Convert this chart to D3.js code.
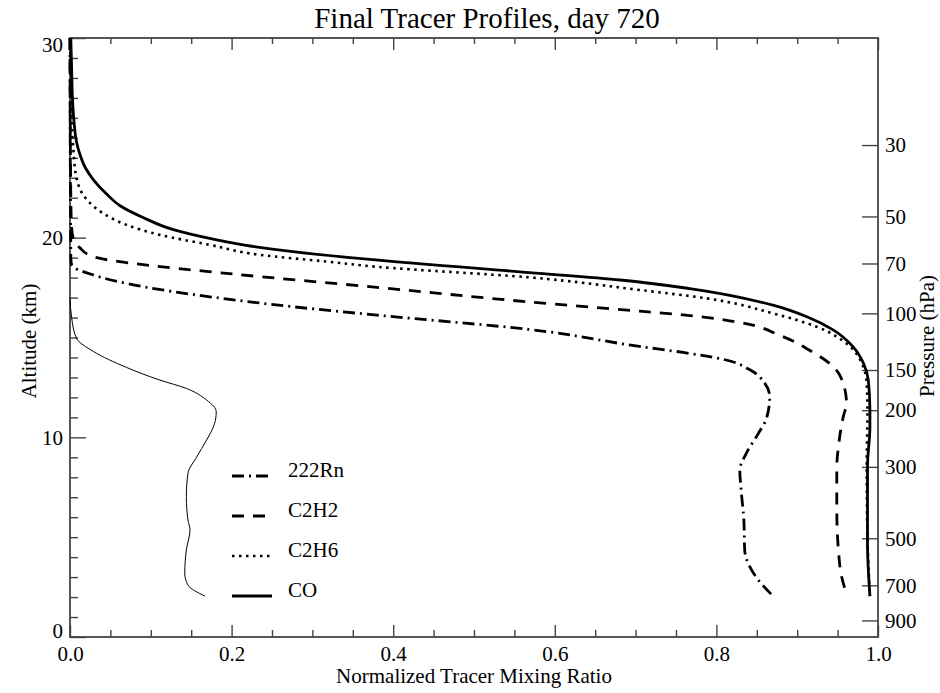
<!DOCTYPE html>
<html lang="en">
<head>
<meta charset="utf-8" />
<title>Final Tracer Profiles, day 720</title>
<script src="https://d3js.org/d3.v7.min.js"></script>
<style>
  body { margin: 0; background: #fff; }
  svg text { font-family: "Liberation Serif", "Times New Roman", serif; fill: #000; }
  .tick line, .box { stroke: #444; }
</style>
</head>
<body>
<svg width="940" height="693"></svg>
<script>
// profiles as [mixing ratio, altitude km]
var rn222 = [[0.000,30],[0.001,19.0],[0.002,18.63],[0.025,18.18],[0.091,17.54],[0.173,17.04],[0.276,16.54],[0.380,16.12],[0.569,15.4],[0.705,14.55],[0.759,14.25],[0.809,13.9],[0.842,13.37],[0.860,12.7],[0.866,12.03],[0.862,10.95],[0.852,10.2],[0.837,9.2],[0.829,8.36],[0.831,7.2],[0.834,5.86],[0.835,4.36],[0.846,3.19],[0.870,2.05]];
var c2h2 = [[0.000,30],[0.001,22.0],[0.002,20.5],[0.004,19.96],[0.012,19.5],[0.029,19.04],[0.078,18.71],[0.194,18.21],[0.383,17.5],[0.569,16.78],[0.705,16.32],[0.767,16.1],[0.829,15.75],[0.879,15.1],[0.920,14.25],[0.945,13.53],[0.957,12.7],[0.961,11.7],[0.957,11.03],[0.951,9.53],[0.949,8.53],[0.949,6.36],[0.951,4.36],[0.955,3.02],[0.962,2.05]];
var c2h6 = [[0.000,30],[0.001,28.0],[0.002,25.8],[0.004,24.5],[0.008,23.0],[0.021,21.9],[0.041,21.22],[0.070,20.64],[0.111,20.14],[0.173,19.64],[0.235,19.14],[0.318,18.8],[0.380,18.54],[0.569,18.01],[0.705,17.38],[0.788,16.96],[0.870,16.21],[0.924,15.54],[0.961,14.7],[0.980,13.71],[0.986,12.7],[0.987,11.37],[0.986,8.53],[0.987,5.0],[0.990,2.05]];
var co = [[0.001,30],[0.002,28.5],[0.003,27.0],[0.005,25.8],[0.008,24.8],[0.012,24.2],[0.019,23.5],[0.029,22.9],[0.045,22.2],[0.062,21.6],[0.091,21.0],[0.128,20.4],[0.173,19.96],[0.220,19.6],[0.276,19.3],[0.371,18.91],[0.569,18.25],[0.681,17.88],[0.767,17.45],[0.870,16.62],[0.912,16.04],[0.945,15.37],[0.969,14.54],[0.982,13.71],[0.988,12.87],[0.990,11.37],[0.990,10.53],[0.987,8.53],[0.987,4.69],[0.990,2.05]];
var thin = [[0.000,17.0],[0.002,16.0],[0.008,14.96],[0.029,14.3],[0.070,13.5],[0.111,12.87],[0.144,12.45],[0.169,11.87],[0.181,11.28],[0.179,10.7],[0.169,9.86],[0.157,9.03],[0.146,8.2],[0.144,7.03],[0.146,5.86],[0.1485,5.36],[0.144,4.36],[0.142,3.19],[0.146,2.6],[0.167,2.05]];

var legendNames = ["222Rn", "C2H2", "C2H6", "CO"];
var xMajor = [0, 0.2, 0.4, 0.6, 0.8, 1.0];
var yMajor = [0, 10, 20, 30];
var pressureTicks = [30, 50, 70, 100, 150, 200, 300, 500, 700, 900];

var P0 = 1013.25, H = 7;  // hPa, scale height km

var svg = d3.select("svg"),
    margin = {top: 38, right: 62, bottom: 56, left: 70},
    width = 940 - margin.left - margin.right,
    height = 693 - margin.top - margin.bottom;

var x = d3.scaleLinear().domain([0, 1]).range([0, width]);
var y = d3.scaleLinear().domain([0, 30]).range([height, 0]);
var p = d3.scaleLog().domain([P0, P0 * Math.exp(-30 / H)]).range([height, 0]);

var g = svg.append("g")
    .attr("transform", "translate(" + margin.left + "," + margin.top + ")");

// minor ticks
var xMinor = d3.range(0, 1.0001, 0.05).filter(function(d) { return Math.abs(d * 5 - Math.round(d * 5)) > 1e-6; });
var yMinor = d3.range(1, 30).filter(function(d) { return d % 10 !== 0; });

function clean(sel) { sel.select(".domain").remove(); }

g.append("g").attr("transform", "translate(0," + height + ")")
    .call(d3.axisBottom(x).tickValues(xMinor).tickSize(-7).tickFormat(""))
    .call(clean);
g.append("g")
    .call(d3.axisTop(x).tickValues(xMinor).tickSize(-6).tickFormat(""))
    .call(clean);
g.append("g")
    .call(d3.axisTop(x).tickValues(xMajor).tickSize(-12).tickFormat(""))
    .call(clean);
g.append("g").attr("class", "xaxis").attr("transform", "translate(0," + height + ")")
    .call(d3.axisBottom(x).tickValues(xMajor).tickSize(-12).tickPadding(9).tickFormat(d3.format(".1f")))
    .call(clean);

g.append("g")
    .call(d3.axisLeft(y).tickValues(yMinor).tickSize(-8).tickFormat(""))
    .call(clean);
g.append("g").attr("class", "yaxis")
    .call(d3.axisLeft(y).tickValues(yMajor).tickSize(-16).tickPadding(7).tickFormat(d3.format("d")))
    .call(clean);

g.append("g").attr("transform", "translate(" + width + ",0)")
    .call(d3.axisRight(p).tickValues(pressureTicks).tickSize(-16).tickPadding(7).tickFormat(d3.format("d")))
    .call(clean);

g.selectAll(".tick text").attr("font-size", 21).attr("font-family", "Liberation Serif");
g.selectAll(".tick line").attr("stroke-width", 1.4);

// keep end labels inside the axis range
g.selectAll(".yaxis .tick text").filter(function(d) { return d === 30; }).attr("dy", "0.65em");
g.selectAll(".yaxis .tick text").filter(function(d) { return d === 0; }).attr("dy", "0em");

g.append("rect").attr("class", "box")
    .attr("width", width).attr("height", height)
    .attr("fill", "none").attr("stroke-width", 1.8);

var line = d3.line()
    .x(function(d) { return x(d[0]); })
    .y(function(d) { return y(d[1]); })
    .curve(d3.curveMonotoneY);

var styles = [
  {data: rn222, dash: "12,5,2,5", w: 2.8},
  {data: c2h2, dash: "12,9", w: 2.8},
  {data: c2h6, dash: "2.5,4.5", w: 2.6},
  {data: co, dash: null, w: 2.8}
];

g.append("path").datum(thin)
    .attr("fill", "none").attr("stroke", "#000").attr("stroke-width", 1)
    .attr("d", line);

styles.forEach(function(s) {
  g.append("path").datum(s.data)
      .attr("fill", "none").attr("stroke", "#000")
      .attr("stroke-width", s.w)
      .attr("stroke-dasharray", s.dash)
      .attr("d", line);
});

// legend
var leg = svg.append("g").selectAll("g").data(legendNames).enter().append("g")
    .attr("transform", function(d, i) { return "translate(232," + (476 + i * 40) + ")"; });
leg.append("line")
    .attr("x1", 0).attr("x2", 40).attr("y1", 0).attr("y2", 0)
    .attr("stroke", "#000")
    .attr("stroke-width", function(d, i) { return styles[i].w; })
    .attr("stroke-dasharray", function(d, i) { return styles[i].dash; });
leg.append("text")
    .attr("x", 56).attr("y", 1)
    .attr("font-size", 21)
    .text(function(d) { return d; });

// titles
svg.append("text")
    .attr("x", 487).attr("y", 28)
    .attr("text-anchor", "middle").attr("font-size", 29)
    .text("Final Tracer Profiles, day 720");
svg.append("text")
    .attr("x", 474).attr("y", 683)
    .attr("text-anchor", "middle").attr("font-size", 21)
    .text("Normalized Tracer Mixing Ratio");
svg.append("text")
    .attr("transform", "translate(36,341) rotate(-90)")
    .attr("text-anchor", "middle").attr("font-size", 21)
    .text("Altitude (km)");
svg.append("text")
    .attr("transform", "translate(934,336) rotate(-90)")
    .attr("text-anchor", "middle").attr("font-size", 21)
    .text("Pressure (hPa)");
</script>
</body>
</html>
